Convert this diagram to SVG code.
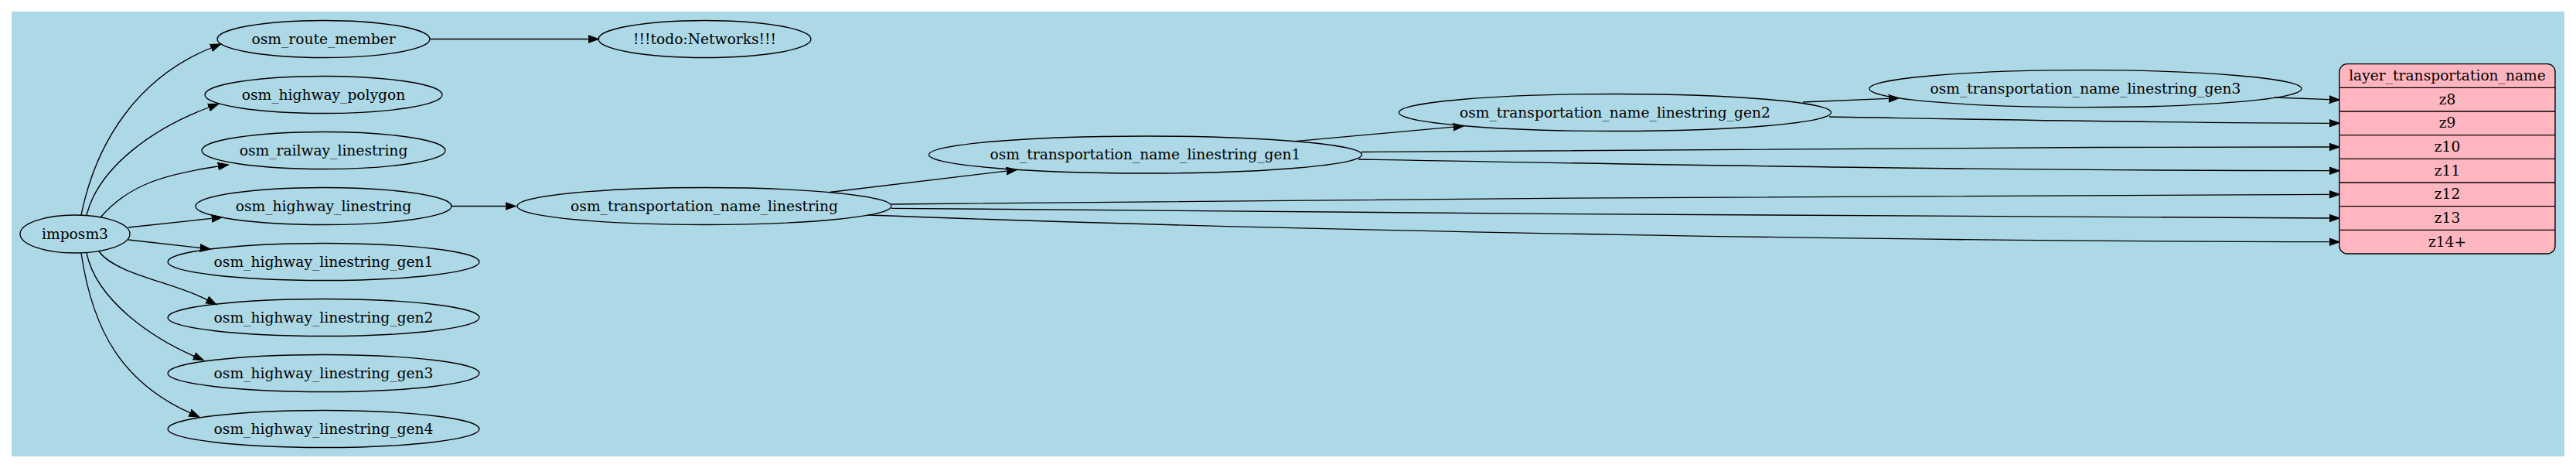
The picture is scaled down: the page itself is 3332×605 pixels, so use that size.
<svg xmlns="http://www.w3.org/2000/svg" width="3332" height="605" viewBox="0 0 3332 605">
<defs>
<marker id="arr" markerUnits="userSpaceOnUse" markerWidth="16" markerHeight="12" viewBox="0 -6 16 12" refX="0" refY="0" orient="auto">
<polygon points="0,-4.67 13.33,0 0,4.67" fill="#000" stroke="#000" stroke-width="1.33"/>
</marker>
<style>
.n ellipse{fill:none;stroke:#000;stroke-width:1.33}
text{font-family:"DejaVu Serif","Liberation Serif",serif;font-size:18.67px;fill:#000;text-anchor:middle}
.e path{fill:none;stroke:#000;stroke-width:1.33;marker-end:url(#arr)}
.rec rect{fill:#ffb6c1;stroke:#000;stroke-width:1.33}
.rec line{stroke:#000;stroke-width:1.33}
</style>
</defs>
<rect x="15" y="15" width="3302" height="575" fill="#add8e6"/>
<g id="edges" class="e">
<path d="M105,278 C125,180 180,100 273,62"/>
<path d="M112,278 C128,215 200,165 270,139"/>
<path d="M130,281 C165,240 210,226 282,215"/>
<path d="M166,294 L273.8,282.4"/>
<path d="M166,310 L258.8,320.5"/>
<path d="M128,325 C150,355 225,365 267.7,387.4"/>
<path d="M112,327 C125,390 200,438 251,460.3"/>
<path d="M105,327 C120,430 160,495 245.6,533.7"/>
<path d="M556,50.5 L760.7,50.5"/>
<path d="M583,266.5 L653.7,266.5"/>
<path d="M1073,248.5 L1301.8,221.1"/>
<path d="M1153,264 C1700,258 2500,252 3012.7,251.3"/>
<path d="M1153,269.3 C1700,274 2500,281 3012.7,282"/>
<path d="M1122,278 C1700,300 2500,312 3012.7,312.7"/>
<path d="M1675,182.6 L1879.8,164.2"/>
<path d="M1761,196.5 C2200,193 2600,190 3012.7,190"/>
<path d="M1757,206 C2200,214 2600,220.5 3012.7,220.7"/>
<path d="M2332,132 L2442.7,127.4"/>
<path d="M2366,151 C2600,155 2800,159 3012.7,159.3"/>
<path d="M2942,126 L3012.7,128.6"/>
</g>
<g id="imposm3" class="n"><ellipse cx="97" cy="302.5" rx="71" ry="24.5"/><text x="97" y="308.5">imposm3</text></g>
<g id="osm_route_member" class="n"><ellipse cx="418.5" cy="50.5" rx="137.5" ry="24"/><text x="418.5" y="56.5">osm_route_member</text></g>
<g id="osm_highway_polygon" class="n"><ellipse cx="418.5" cy="122.5" rx="153.5" ry="24"/><text x="418.5" y="128.5">osm_highway_polygon</text></g>
<g id="osm_railway_linestring" class="n"><ellipse cx="418.5" cy="194.5" rx="157.5" ry="24"/><text x="418.5" y="200.5">osm_railway_linestring</text></g>
<g id="osm_highway_linestring" class="n"><ellipse cx="418.5" cy="266.5" rx="165.5" ry="24"/><text x="418.5" y="272.5">osm_highway_linestring</text></g>
<g id="osm_highway_linestring_gen1" class="n"><ellipse cx="418.5" cy="338.5" rx="201.5" ry="24"/><text x="418.5" y="344.5">osm_highway_linestring_gen1</text></g>
<g id="osm_highway_linestring_gen2" class="n"><ellipse cx="418.5" cy="410.5" rx="201.5" ry="24"/><text x="418.5" y="416.5">osm_highway_linestring_gen2</text></g>
<g id="osm_highway_linestring_gen3" class="n"><ellipse cx="418.5" cy="482.5" rx="201.5" ry="24"/><text x="418.5" y="488.5">osm_highway_linestring_gen3</text></g>
<g id="osm_highway_linestring_gen4" class="n"><ellipse cx="418.5" cy="554.5" rx="201.5" ry="24"/><text x="418.5" y="560.5">osm_highway_linestring_gen4</text></g>
<g id="todo_networks" class="n"><ellipse cx="911.5" cy="50.5" rx="137.5" ry="24"/><text x="911.5" y="56.5">!!!todo:Networks!!!</text></g>
<g id="osm_transportation_name_linestring" class="n"><ellipse cx="911" cy="266.5" rx="242" ry="24"/><text x="911" y="272.5">osm_transportation_name_linestring</text></g>
<g id="osm_transportation_name_linestring_gen1" class="n"><ellipse cx="1481.5" cy="200" rx="280" ry="24"/><text x="1481.5" y="206">osm_transportation_name_linestring_gen1</text></g>
<g id="osm_transportation_name_linestring_gen2" class="n"><ellipse cx="2089" cy="145.5" rx="279.5" ry="24"/><text x="2089" y="151.5">osm_transportation_name_linestring_gen2</text></g>
<g id="osm_transportation_name_linestring_gen3" class="n"><ellipse cx="2697.5" cy="114.7" rx="279.5" ry="24"/><text x="2697.5" y="120.7">osm_transportation_name_linestring_gen3</text></g>
<g id="layer_transportation_name" class="rec">
<rect x="3026" y="82.7" width="279" height="245.3" rx="10" ry="10"/>
<line x1="3026" y1="113.3" x2="3305" y2="113.3"/>
<line x1="3026" y1="144" x2="3305" y2="144"/>
<line x1="3026" y1="174.7" x2="3305" y2="174.7"/>
<line x1="3026" y1="205.3" x2="3305" y2="205.3"/>
<line x1="3026" y1="236" x2="3305" y2="236"/>
<line x1="3026" y1="266.7" x2="3305" y2="266.7"/>
<line x1="3026" y1="297.3" x2="3305" y2="297.3"/>
<text x="3165.5" y="104">layer_transportation_name</text>
<text x="3165.5" y="134.7">z8</text>
<text x="3165.5" y="165.3">z9</text>
<text x="3165.5" y="196">z10</text>
<text x="3165.5" y="226.7">z11</text>
<text x="3165.5" y="257.3">z12</text>
<text x="3165.5" y="288">z13</text>
<text x="3165.5" y="318.7">z14+</text>
</g>
</svg>
